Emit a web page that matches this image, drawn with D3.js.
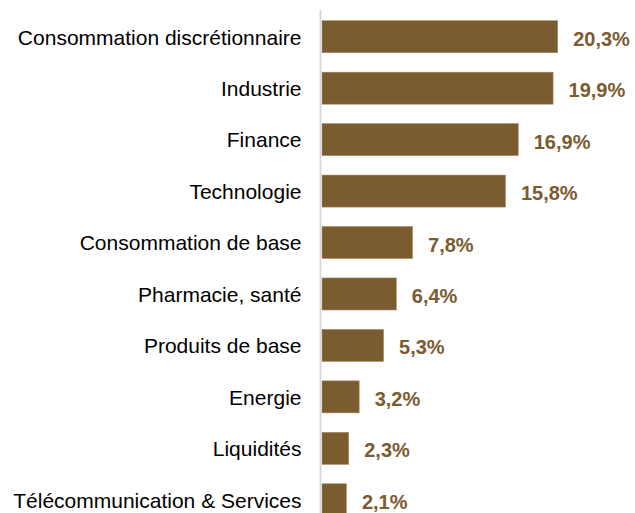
<!DOCTYPE html>
<html>
<head>
<meta charset="utf-8">
<script src="https://cdn.jsdelivr.net/npm/d3@7"></script>
<style>
  body { margin: 0; background: #fff; }
</style>
</head>
<body>
<svg id="chart"></svg>
<script>
// Données
const categories = [
  "Consommation discrétionnaire",
  "Industrie",
  "Finance",
  "Technologie",
  "Consommation de base",
  "Pharmacie, santé",
  "Produits de base",
  "Energie",
  "Liquidités",
  "Télécommunication & Services"
];
const values = [20.3, 19.9, 16.9, 15.8, 7.8, 6.4, 5.3, 3.2, 2.3, 2.1];

const width = 635;
const height = 513;
const x0 = 322;

const svg = d3.select("#chart")
  .attr("width", width)
  .attr("height", height)
  .style("font-family", "'Liberation Sans', Arial, sans-serif");

const x = d3.scaleLinear()
  .domain([0, 20.3])
  .range([x0, 557.7]);

const y = d3.scaleBand()
  .domain(categories)
  .range([11, 525.5])
  .paddingInner(0.378)
  .paddingOuter(0.189);

const fmt = v => v.toFixed(1).replace(".", ",") + "%";
const brown = "#7b5b30";

// barres
svg.append("g")
  .selectAll("rect")
  .data(values)
  .join("rect")
    .attr("x", x(0))
    .attr("y", (d, i) => y(categories[i]))
    .attr("width", d => x(d) - x(0))
    .attr("height", y.bandwidth())
    .attr("fill", brown)
    .attr("stroke", "#a58a60")
    .attr("stroke-width", 0.6);

// axe vertical
svg.append("line")
  .attr("x1", 320.5).attr("x2", 320.5)
  .attr("y1", 10).attr("y2", height)
  .attr("stroke", "#d9d9d9")
  .attr("stroke-width", 2);

// libellés catégories
svg.append("g")
  .attr("text-anchor", "end")
  .selectAll("text")
  .data(categories)
  .join("text")
    .attr("x", 301.5)
    .attr("y", d => y(d) + y.bandwidth() / 2 + 0.5)
    .attr("dy", "0.35em")
    .attr("font-size", 21)
    .attr("fill", "#000")
    .text(d => d);

// valeurs
svg.append("g")
  .selectAll("text")
  .data(values)
  .join("text")
    .attr("x", d => x(d) + 15.5)
    .attr("y", (d, i) => y(categories[i]) + y.bandwidth() / 2 + 2)
    .attr("dy", "0.35em")
    .attr("font-size", 20)
    .attr("font-weight", "bold")
    .attr("fill", brown)
    .text(fmt);
</script>
</body>
</html>
